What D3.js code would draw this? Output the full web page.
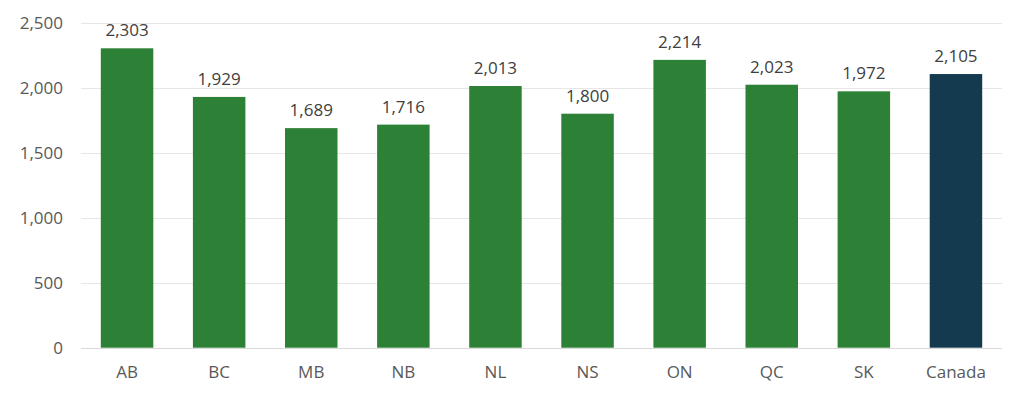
<!DOCTYPE html>
<html>
<head>
<meta charset="utf-8">
<script src="https://cdn.jsdelivr.net/npm/d3@7"></script>
<style>
  body { margin: 0; background: #fff; }
  text { font-family: "Open Sans", sans-serif; fill: #595959; }
</style>
</head>
<body>
<script>
var categories = ['AB', 'BC', 'MB', 'NB', 'NL', 'NS', 'ON', 'QC', 'SK', 'Canada'];
var values = [2303, 1929, 1689, 1716, 2013, 1800, 2214, 2023, 1972, 2105];
var yTicks = [0, 500, 1000, 1500, 2000, 2500];

var svgWidth = 1024, svgHeight = 398;
var plotLeft = 81, plotRight = 1002, plotTop = 22.7, plotBottom = 347.7;

var svg = d3.select('body').append('svg')
  .attr('width', svgWidth)
  .attr('height', svgHeight);

var x = d3.scaleBand()
  .domain(categories)
  .range([plotLeft, plotRight])
  .paddingInner(0.43)
  .paddingOuter(0.215);

var y = d3.scaleLinear()
  .domain([0, 2500])
  .range([plotBottom, plotTop]);

// gridlines
svg.selectAll('line.grid')
  .data(yTicks)
  .enter()
  .append('line')
  .attr('class', 'grid')
  .attr('x1', plotLeft)
  .attr('x2', plotRight)
  .attr('y1', function(d) { return Math.round(y(d)) + 0.5; })
  .attr('y2', function(d) { return Math.round(y(d)) + 0.5; })
  .attr('stroke', function(d) { return d == 0 ? '#d9d9d9' : '#e6e6e6'; })
  .attr('stroke-width', 1);

// y tick labels
svg.selectAll('text.ytick')
  .data(yTicks)
  .enter()
  .append('text')
  .attr('class', 'ytick')
  .attr('x', 63)
  .attr('y', function(d) { return y(d); })
  .attr('dy', '0.35em')
  .attr('text-anchor', 'end')
  .style('font-size', '17px')
  .text(function(d) { return d3.format(',')(d); });

// bars
svg.selectAll('rect.bar')
  .data(values)
  .enter()
  .append('rect')
  .attr('class', 'bar')
  .attr('x', function(d, i) { return x(categories[i]); })
  .attr('width', x.bandwidth())
  .attr('y', function(d) { return y(d); })
  .attr('height', function(d) { return y(0) - y(d); })
  .attr('fill', function(d, i) { return categories[i] == 'Canada' ? '#133a4f' : '#2d8136'; });

// value labels
svg.selectAll('text.val')
  .data(values)
  .enter()
  .append('text')
  .attr('class', 'val')
  .attr('x', function(d, i) { return x(categories[i]) + x.bandwidth() / 2; })
  .attr('y', function(d) { return y(d) - 12; })
  .attr('text-anchor', 'middle')
  .style('font-size', '17px')
  .style('fill', '#404040')
  .text(function(d) { return d3.format(',')(d); });

// x labels
svg.selectAll('text.xtick')
  .data(categories)
  .enter()
  .append('text')
  .attr('class', 'xtick')
  .attr('x', function(d) { return x(d) + x.bandwidth() / 2; })
  .attr('y', 378)
  .attr('text-anchor', 'middle')
  .style('font-size', '17px')
  .text(function(d) { return d; });
</script>
</body>
</html>
